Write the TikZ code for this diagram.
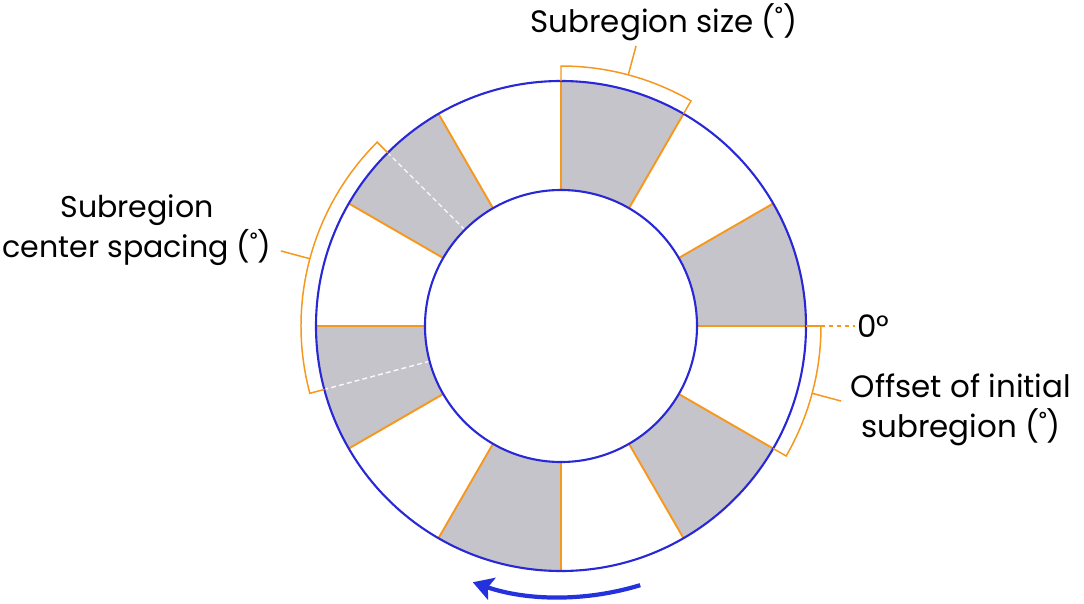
\documentclass[tikz,border=0pt]{standalone}
\usepackage{fontspec}
\setmainfont{Poppins}
\usepackage{tikz}
\usetikzlibrary{arrows.meta}
\definecolor{ringblue}{RGB}{40,40,215}
\definecolor{arrowblue}{RGB}{35,50,220}
\definecolor{suborange}{RGB}{246,152,30}
\definecolor{subgray}{RGB}{197,196,202}

\begin{document}
\begin{tikzpicture}[
ring/.style={draw=ringblue, line width=1.2pt},
radial/.style={draw=suborange, line width=1.1pt},
bracket/.style={draw=suborange, line width=0.85pt},
center line/.style={draw=white!92!subgray, line width=0.8pt, dash pattern=on 2.8pt off 1.8pt},
label/.style={font=\fontsize{17.6}{22.2}\selectfont, inner sep=0pt, align=center}
]
\useasboundingbox (-11.22,-5.54) rectangle (10.46,6.52);
% draws shaded subregions
\foreach \a in {0,60,...,300}
\fill[subgray] (\a:2.72) -- (\a:4.9) arc (\a:\a+30:4.9) -- (\a+30:2.72) arc (\a+30:\a:2.72) -- cycle;
% draws subregion borders
\foreach \a in {0,30,...,330}
\draw[radial] (\a:2.72) -- (\a:4.9);
% draws center lines of two subregions
\draw[center line] (135:2.72) -- (135:4.9);
\draw[center line] (195:2.72) -- (195:4.9);
% draws rings
\draw[ring] (0,0) circle (4.9);
\draw[ring] (0,0) circle (2.72);
% draws brackets
\draw[bracket] (90:4.9) -- (90:5.2) arc (90:60:5.2) -- (60:4.9);
\draw[bracket] (135:4.9) -- (135:5.2) arc (135:195:5.2) -- (195:4.9);
\draw[radial] (0:4.9) -- (0:5.2);
\draw[bracket] (0:5.2) arc (0:-30:5.2) -- (-30:4.9);
% points for the label lines
\coordinate (sizeTick) at (75:5.2);
\coordinate (sizeEnd) at (75:5.8);
\coordinate (spacingTick) at (165:5.2);
\coordinate (spacingEnd) at (165:5.8);
\coordinate (offsetTick) at (-15:5.2);
\coordinate (offsetEnd) at (-15:5.8);
\coordinate (zeroTick) at (0:5.2);
\draw[bracket] (sizeTick) -- (sizeEnd);
\draw[bracket] (spacingTick) -- (spacingEnd);
\draw[bracket] (offsetTick) -- (offsetEnd);
% labels (base is the last line)
\node[label, anchor=base] (size) at (2.06,5.88) {Subregion size (˚)};
\node[label, anchor=base, font=\fontsize{17.1}{22.2}\selectfont] (spacing) at (-8.48,1.38) {Subregion\\center spacing (˚)};
\node[label, anchor=base] (offset) at (8.0,-2.22) {Offset of initial\\subregion (˚)};
\node[label, anchor=west, inner sep=1pt] (zero) at (5.88,0) {0°};
\draw[bracket, line width=1pt, dash pattern=on 2.5pt off 2pt] (zeroTick) -- (zero);
% draws direction arrow
\draw[arrowblue, line width=2.4pt, -{Stealth[length=4mm, width=4.6mm, inset=0.8mm]}]
(-73:5.42) arc (-73:-109:5.42);
\end{tikzpicture}
\end{document}
